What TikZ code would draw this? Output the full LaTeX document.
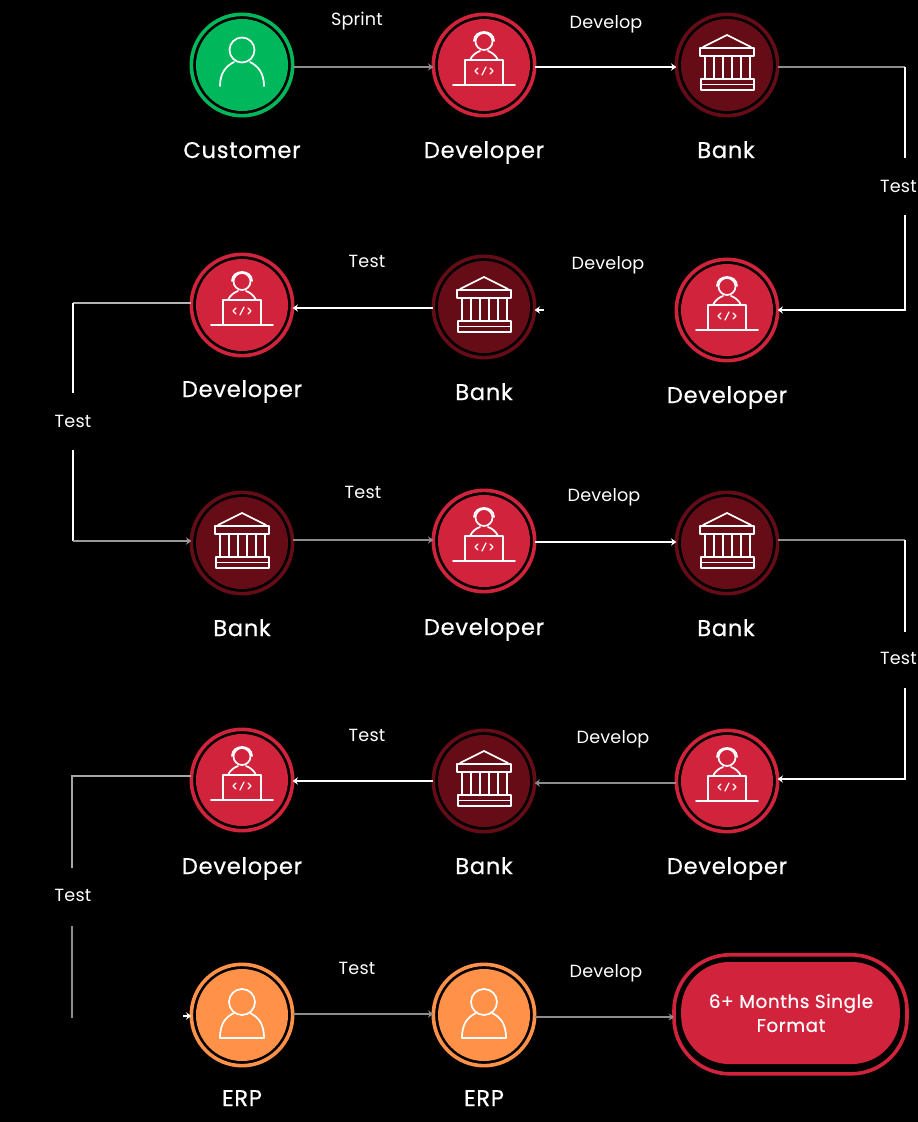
\documentclass[tikz,border=0pt]{standalone}
\usepackage{fontspec}
\setmainfont{Poppins}
\newfontfamily\namefont[FakeBold=0.5,LetterSpace=3]{Poppins}
\newfontfamily\labfont[LetterSpace=1]{Poppins}
\usetikzlibrary{arrows.meta,calc}
\definecolor{grn}{HTML}{00B85C}
\definecolor{rd}{HTML}{D2233C}
\definecolor{mar}{HTML}{650C16}
\definecolor{org}{HTML}{FF9148}
\definecolor{gline}{HTML}{8C8C8C}
\tikzset{
  x=0.75pt,y=-0.75pt,
  ring/.style={circle,draw=#1,line width=2.7pt,minimum size=76pt,inner sep=0pt,outer sep=0pt},
  disc/.style={circle,fill=#1,minimum size=69pt,inner sep=0pt,outer sep=0pt},
  nametext/.style={text=white,font=\namefont\fontsize{17}{20}\selectfont,inner sep=0pt,anchor=base},
  lab/.style={text=white,font=\labfont\fontsize{13.2}{16}\selectfont,inner sep=0pt,anchor=base},
  wln/.style={draw=white,line width=2.2pt},
  gln/.style={draw=gline,line width=2.2pt},
  arrowed/.style={-{Stealth[length=4pt,width=5.5pt]}},
  ic/.style={draw=white,line width=1.3pt,line cap=round,line join=round},
  pics/personicon/.style={code={
    \draw[ic] (0,-15) circle (12.5);
    \draw[ic] (-22,21) .. controls (-22,8) and (-16,1) .. (-8,-3);
    \draw[ic] (22,21) .. controls (22,8) and (16,1) .. (8,-3);
  }},
  pics/erpicon/.style={code={
    \draw[ic] (0,-13) circle (13);
    \draw[ic] (-8,-2) .. controls (-16,2) and (-22,8) .. (-22,23) -- (22,23) .. controls (22,8) and (16,2) .. (8,-2);
  }},
  pics/devicon/.style={code={
    \draw[ic] (0,-23.5) circle (8.5);
    \draw[ic] (-10,-24) .. controls (-10,-36) and (10,-36) .. (10,-24);
    \draw[ic] (-14,-5) .. controls (-12,-10) and (-7,-13) .. (-4,-14);
    \draw[ic] (14,-5) .. controls (12,-10) and (7,-13) .. (4,-14);
    \draw[ic] (-19,19) -- (-19,-5) -- (19,-5) -- (19,19);
    \draw[ic] (-31,20) -- (31,20);
    \draw[ic,line width=0.9pt] (-6,3) -- (-9,6) -- (-6,9) (6,3) -- (9,6) -- (6,9) (2,2) -- (-2,10);
  }},
  pics/bankicon/.style={code={
    \draw[ic] (-24,-18) -- (0,-30) -- (24,-18);
    \draw[ic] (-27,-17) rectangle (27,-9);
    \foreach \c in {-22,-13,-4,5,14,23} {\draw[ic] (\c,-8) -- (\c,13);}
    \draw[ic] (-26,14) rectangle (27,25);
    \draw[ic] (-26,19.5) -- (27,19.5);
  }},
}
\newcommand{\stage}[6]{%
  \node[ring=#4] (#1) at (#2,#3) {};
  \node[disc=#5] (#1-d) at (#2,#3) {};
  \pic at (#1) {#6};
}
\begin{document}
\begin{tikzpicture}
\useasboundingbox (0,0) rectangle (918,1122);
\clip (0,0) rectangle (918,1122);
\fill[black] (0,0) rectangle (918,1122);

% row 1
\stage{a}{242}{65}{grn}{grn}{personicon}
\stage{b}{484}{65}{rd}{rd}{devicon}
\stage{c}{727}{65}{mar}{mar}{bankicon}
% row 2
\stage{f}{242}{305}{rd}{rd}{devicon}
\stage{e}{484}{307}{mar}{mar}{bankicon}
\stage{d}{727}{310}{rd}{rd}{devicon}
% row 3
\stage{g}{242}{543}{mar}{mar}{bankicon}
\stage{h}{484}{541}{rd}{rd}{devicon}
\stage{i}{727}{543}{mar}{mar}{bankicon}
% row 4
\stage{l}{242}{780}{rd}{rd}{devicon}
\stage{k}{484}{781}{mar}{mar}{bankicon}
\stage{j}{727}{781}{rd}{rd}{devicon}
% row 5
\stage{m}{242}{1015}{org}{org}{erpicon}
\stage{n}{484}{1015}{org}{org}{erpicon}
\node[draw=rd,line width=2.7pt,rounded corners=42pt,minimum width=174.8pt,minimum height=89.3pt,inner sep=0pt,outer sep=0pt] (o) at (790.5,1014.3) {};
\node[fill=rd,rounded corners=36pt,minimum width=164pt,minimum height=76.5pt,inner sep=0pt,outer sep=0pt] (o-d) at (790.5,1013) {};
\node[text=white,align=center,font=\namefont\fontsize{13.8}{18}\selectfont,inner sep=0pt] (ot) at (791,1013) {6+ Months Single\\Format};

% names
\node[nametext] (a-l) at (242,158) {Customer};
\node[nametext] (b-l) at (484,158) {Developer};
\node[nametext] (c-l) at (726,158) {Bank};
\node[nametext] (f-l) at (242,397) {Developer};
\node[nametext] (e-l) at (484,400) {Bank};
\node[nametext] (d-l) at (727,403) {Developer};
\node[nametext] (g-l) at (242,636) {Bank};
\node[nametext] (h-l) at (484,635) {Developer};
\node[nametext] (i-l) at (726,636) {Bank};
\node[nametext] (l-l) at (242,874) {Developer};
\node[nametext] (k-l) at (484,874) {Bank};
\node[nametext] (j-l) at (727,874) {Developer};
\node[nametext] (m-l) at (242,1106) {ERP};
\node[nametext] (n-l) at (484,1106) {ERP};

% small labels
\node[lab] (t1) at (357,25) {Sprint};
\node[lab] (t2) at (606,28) {Develop};
\node[lab,anchor=base east] (t3) at (917,192) {Test};
\node[lab] (t4) at (608,269) {Develop};
\node[lab] (t5) at (367,267) {Test};
\node[lab] (t6) at (73,427) {Test};
\node[lab] (t7) at (363,498) {Test};
\node[lab] (t8) at (604,501) {Develop};
\node[lab,anchor=base east] (t9) at (917,664) {Test};
\node[lab] (t10) at (613,743) {Develop};
\node[lab] (t11) at (367,741) {Test};
\node[lab] (t12) at (73,901) {Test};
\node[lab] (t13) at (357,974) {Test};
\node[lab] (t14) at (606,977) {Develop};

% free ends of the connectors
\coordinate (r1) at (905,158);
\coordinate (r2) at (905,215);
\coordinate (s1) at (73,393);
\coordinate (s2) at (73,450);
\coordinate (r3) at (905,632);
\coordinate (r4) at (905,688);
\coordinate (s3) at (72,868);
\coordinate (s4) at (72,926);
\coordinate (s5) at (72,1018);
\coordinate (st1) at (544,310);
\coordinate (st2) at (183,1016);

% connectors
\draw[gln,arrowed] (a.east |- 0,67) -- (b.west |- 0,67);
\draw[wln,arrowed] (b.east |- 0,67) -- (c.west |- 0,67);
\draw[gln] (c.east |- 0,67) -- (r1 |- 0,67);
\draw[wln] (r1 |- 0,67) -- (r1);
\draw[wln,arrowed] (r2) -- (r2 |- d.east) -- (d.east);
\draw[wln,arrowed] (st1) -- (e.east |- st1);
\draw[wln,arrowed] (e.west |- 0,308) -- (f.east |- 0,308);
\draw[draw=gray!60,line width=2.2pt] (f.west |- 0,303) -- (s1 |- 0,303);
\draw[wln] (s1 |- 0,303) -- (s1);
\draw[wln] (s2) -- (s2 |- 0,541);
\draw[draw=gray!80,line width=2.2pt,arrowed] (s2 |- 0,541) -- (g.west |- 0,541);
\draw[gln,arrowed] (g.east |- 0,540) -- (h.west |- 0,540);
\draw[wln,arrowed] (h.east |- 0,542) -- (i.west |- 0,542);
\draw[gln] (i.east |- 0,540) -- (r3 |- 0,540);
\draw[wln] (r3 |- 0,540) -- (r3);
\draw[wln,arrowed] (r4) -- (r4 |- 0,779) -- (j.east |- 0,779);
\draw[gln,arrowed] (j.west |- 0,783) -- (k.east |- 0,783);
\draw[wln,arrowed] (k.west |- 0,781) -- (l.east |- 0,781);
\draw[draw=gray!70,line width=1.8pt] (l.west |- 0,776) -- (s3 |- 0,776) -- (s3);
\draw[gln] (s4) -- (s5);
\draw[wln,arrowed] (st2) -- (m.west |- st2);
\draw[gln,arrowed] (m.east |- 0,1014) -- (n.west |- 0,1014);
\draw[gln,arrowed] (n.east |- 0,1017) -- (o.west |- 0,1017);
\end{tikzpicture}
\end{document}
